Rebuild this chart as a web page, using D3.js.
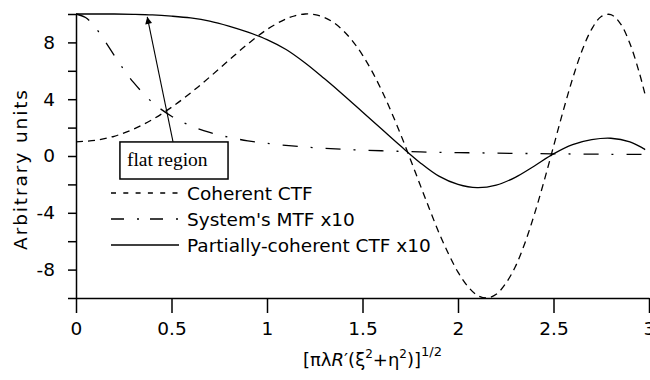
<!DOCTYPE html>
<html>
<head>
<meta charset="utf-8">
<script src="https://cdn.jsdelivr.net/npm/d3@7"></script>
<style>
  body { margin: 0; background: #fff; }
  svg { display: block; }
  .axis path, .axis line { stroke: #000; stroke-width: 1.5px; }
  .axis text { font-family: "DejaVu Sans", sans-serif; font-size: 18.5px; fill: #000; }
  .curve { fill: none; stroke: #000; stroke-width: 1.3px; }
  .legend text { font-family: "DejaVu Sans", sans-serif; font-size: 18.5px; }
</style>
</head>
<body>
<div id="chart"></div>
<script>
// Coherent CTF (dashed)
const coherentX = [0, 0.1, 0.2, 0.3, 0.4, 0.5, 0.6, 0.7, 0.8, 0.9, 1.0, 1.1, 1.15, 1.2, 1.25, 1.3, 1.35, 1.4, 1.45, 1.5,
  1.55, 1.6, 1.65, 1.7, 1.75, 1.8, 1.85, 1.9, 1.95, 2.0, 2.05, 2.1, 2.15, 2.2, 2.25, 2.3, 2.35, 2.4, 2.45, 2.5,
  2.55, 2.6, 2.65, 2.7, 2.75, 2.8, 2.85, 2.9, 2.95, 2.98]
const coherentY = [1.0, 1.1, 1.39, 1.89, 2.57, 3.43, 4.44, 5.56, 6.74, 7.89, 8.91, 9.66, 9.89, 10.0, 9.96, 9.76, 9.39, 8.82, 8.06, 7.11,
  5.96, 4.63, 3.13, 1.51, -0.21, -1.97, -3.71, -5.4, -6.88, -8.18, -9.16, -9.8, -10.0, -9.74, -8.97, -7.8, -6.14, -4.1, -1.8, 0.67,
  3.14, 5.45, 7.44, 8.94, 9.82, 9.96, 9.33, 7.92, 5.83, 4.3]

// System's MTF x10 (dash-dot)
const mtfX = [0, 0.05, 0.1, 0.15, 0.2, 0.25, 0.3, 0.4, 0.5, 0.6, 0.7, 0.8, 0.9, 1.0, 1.2, 1.4, 1.6, 1.8, 2.0, 2.2, 2.4, 2.6, 2.8, 2.98]
const mtfY = [10, 9.75, 9.07, 8.12, 7.09, 6.09, 5.2, 3.78, 2.8, 2.13, 1.66, 1.32, 1.07, 0.89, 0.63, 0.47, 0.37, 0.29, 0.24, 0.2, 0.17, 0.14, 0.12, 0.11]

// Partially-coherent CTF x10 (solid)
const partialX = [0, 0.1, 0.2, 0.3, 0.4, 0.5, 0.6, 0.7, 0.8, 0.9, 1.0, 1.1, 1.2, 1.3, 1.4, 1.5, 1.6, 1.7, 1.8, 1.9,
  2.0, 2.1, 2.2, 2.3, 2.4, 2.5, 2.6, 2.7, 2.8, 2.9, 2.98]
const partialY = [10, 10, 10, 9.98, 9.94, 9.85, 9.72, 9.5, 9.15, 8.72, 8.2, 7.5, 6.55, 5.45, 4.3, 3.1, 1.9, 0.7, -0.45, -1.42,
  -2.0, -2.23, -2.05, -1.5, -0.7, 0.15, 0.8, 1.15, 1.25, 1.0, 0.45]

const xTicks = [0, 0.5, 1, 1.5, 2, 2.5, 3]
const yTicks = [-10, -8, -6, -4, -2, 0, 2, 4, 6, 8, 10]
const yTickLabels = [-8, -4, 0, 4, 8]
const legendLabels = ['Coherent CTF', "System's MTF x10", 'Partially-coherent CTF x10']

const width = 650, height = 380

const svg = d3.select('#chart').append('svg')
    .attr('width', width)
    .attr('height', height)

const x = d3.scaleLinear().domain([0, 3]).range([76, 649])
const y = d3.scaleLinear().domain([-10, 10]).range([298, 14])

// axes
svg.append('g').attr('class', 'axis')
    .attr('transform', 'translate(76,0)')
    .call(d3.axisLeft(y).tickValues(yTicks).tickSize(8).tickSizeOuter(0).tickPadding(13)
      .tickFormat(d => yTickLabels.includes(d) ? String(d) : ''))

svg.append('g').attr('class', 'axis')
    .attr('transform', 'translate(0,298)')
    .call(d3.axisBottom(x).tickValues(xTicks).tickSize(15).tickSizeOuter(0).tickPadding(9)
      .tickFormat(d => String(d)))

// curves
const line = d3.line()
    .x(d => x(d[0]))
    .y(d => y(d[1]))
    .curve(d3.curveCatmullRom)

const series = [
  { name: legendLabels[0], xs: coherentX, ys: coherentY, dash: '7 5', legendDash: '5 7.3' },
  { name: legendLabels[1], xs: mtfX, ys: mtfY, dash: '15 13 2 13', legendDash: '13 13 2 11' },
  { name: legendLabels[2], xs: partialX, ys: partialY, dash: null, legendDash: null }
]

svg.selectAll('path.curve').data(series).enter().append('path')
    .attr('class', 'curve')
    .attr('d', s => line(d3.zip(s.xs, s.ys)))
    .attr('stroke-dasharray', s => s.dash)

// legend
const legend = svg.append('g').attr('class', 'legend')
const rows = legend.selectAll('g').data(series).enter().append('g')
    .attr('transform', (d, i) => 'translate(111,' + (193 + i * 26) + ')')
rows.append('line')
    .attr('x1', 0).attr('x2', 68)
    .attr('stroke', '#000').attr('stroke-width', 1.3)
    .attr('stroke-dasharray', d => d.legendDash)
rows.append('text')
    .attr('x', 76).attr('dy', '0.36em')
    .text(d => d.name)

// "flat region" annotation
const flatBox = { x0: 0.23, x1: 0.796, y0: 0.99, y1: -1.62 }
const arrowFrom = [0.508, 0.99], arrowTo = [0.373, 9.8]

svg.append('defs').append('marker')
    .attr('id', 'arrowhead')
    .attr('viewBox', '0 0 10 10')
    .attr('refX', 10).attr('refY', 5)
    .attr('markerWidth', 9).attr('markerHeight', 7)
    .attr('markerUnits', 'userSpaceOnUse')
    .attr('orient', 'auto')
  .append('path')
    .attr('d', 'M0,0L10,5L0,10z')
    .attr('fill', '#000')

svg.append('line')
    .attr('x1', x(arrowFrom[0])).attr('y1', y(arrowFrom[1]))
    .attr('x2', x(arrowTo[0])).attr('y2', y(arrowTo[1]))
    .attr('stroke', '#000').attr('stroke-width', 1.1)
    .attr('marker-end', 'url(#arrowhead)')

svg.append('rect')
    .attr('x', x(flatBox.x0)).attr('y', y(flatBox.y0))
    .attr('width', x(flatBox.x1) - x(flatBox.x0))
    .attr('height', y(flatBox.y1) - y(flatBox.y0))
    .attr('fill', '#fff').attr('stroke', '#000').attr('stroke-width', 1.5)

svg.append('text')
    .attr('x', x(flatBox.x0) + 7)
    .attr('y', y(flatBox.y1) - 13)
    .attr('font-family', '"Liberation Serif", "Times New Roman", serif')
    .attr('font-size', '19.5px')
    .text('flat region')

// axis titles
svg.append('text')
    .attr('transform', 'translate(27,169) rotate(-90)')
    .attr('text-anchor', 'middle')
    .attr('font-family', '"DejaVu Sans", sans-serif')
    .attr('font-size', '18.5px')
    .attr('letter-spacing', '1.9px')
    .text('Arbitrary units')

const xt = svg.append('text')
    .attr('x', 303).attr('y', 366)
    .attr('font-family', '"DejaVu Sans", sans-serif')
    .attr('font-size', '18px')
xt.append('tspan').text('[πλ')
xt.append('tspan').attr('font-style', 'italic').text('R')
xt.append('tspan').text('\u2032(ξ')
xt.append('tspan').attr('font-size', '12px').attr('dy', -8).text('2')
xt.append('tspan').attr('dy', 8).text('+η')
xt.append('tspan').attr('font-size', '12px').attr('dy', -8).text('2')
xt.append('tspan').attr('dy', 8).text(')]')
xt.append('tspan').attr('font-size', '13px').attr('dy', -10).text('1/2')
</script>
</body>
</html>
